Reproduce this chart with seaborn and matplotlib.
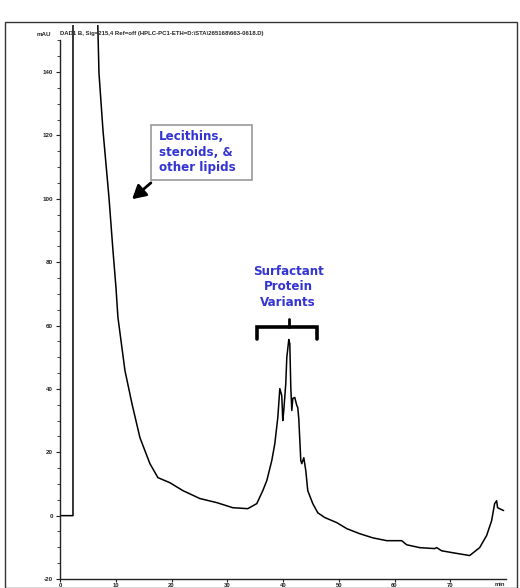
import numpy as np
import pandas as pd
import seaborn as sns
import matplotlib
matplotlib.use("Agg")
import matplotlib.pyplot as plt
from matplotlib.patches import Rectangle

# ---- data ----
time_min = [0.0, 2.33, 2.33, 6.5,
            6.99, 7.71, 8.78, 9.50, 10.04, 10.39, 11.65, 12.90, 14.34, 16.13,
            17.56, 19.71, 22.04, 25.09, 28.14, 31.0, 33.69, 35.30, 36.38, 37.10,
            37.99, 38.53, 39.07, 39.43, 39.78, 39.96, 40.14, 40.50, 40.68, 41.04,
            41.22, 41.40, 41.58, 41.76, 42.11, 42.47, 42.65, 42.83, 43.19, 43.37,
            43.73, 44.09, 44.44, 45.34, 46.24, 47.49, 49.64, 51.43, 53.76, 56.09,
            58.60, 61.29, 62.19, 64.52, 67.20, 67.56, 68.46, 70.43, 73.48, 75.27,
            76.52, 77.42, 77.96, 78.32, 78.49, 78.85, 79.57]
absorbance_mau = [0.0, 0.0, 200.0, 175.0,
                  139.7, 121.6, 100.5, 83.7, 72.0, 62.6, 45.8, 35.4, 24.6, 16.4,
                  12.0, 10.4, 7.9, 5.4, 4.1, 2.5, 2.2, 3.8, 7.9, 11.1,
                  17.4, 22.7, 31.0, 40.1, 37.9, 30.0, 33.2, 41.7, 49.9, 55.6,
                  54.3, 40.4, 33.2, 37.0, 37.3, 34.8, 34.1, 30.6, 17.4, 16.4,
                  18.3, 14.2, 7.9, 3.8, 0.9, -0.6, -2.2, -4.1, -5.7, -7.0,
                  -7.9, -7.9, -9.2, -10.1, -10.4, -10.1, -11.1, -11.7, -12.6, -10.1,
                  -6.3, -1.6, 3.8, 4.7, 2.5, 2.2, 1.6]

y_ticks = [-20, 0, 20, 40, 60, 80, 100, 120, 140]
x_ticks = [0, 10, 20, 30, 40, 50, 60, 70]
x_tick_labels = ["0", "10", "20", "30", "40", "50", "60", "70"]
title_text = "DAD1 B, Sig=215,4 Ref=off (HPLC-PC1-ETH=D:\\STA\\265168\\663-0618.D)"
lipid_label = "Lecithins,\nsteroids, &\nother lipids"
protein_label = "Surfactant\nProtein\nVariants"

df = pd.DataFrame({"time": time_min, "mAU": absorbance_mau})

sns.set_style("white")
plt.rcParams["font.family"] = ["Liberation Sans", "DejaVu Sans"]

W, H = 520, 588
fig = plt.figure(figsize=(W / 100, H / 100), dpi=100)

def fx(px):
    return px / W

def fy(py):
    return 1 - py / H

# axes: x 0 -> px 60, 80 -> px 506 ; y -20 -> py 579, 155 -> py 24.6
ax = fig.add_axes([fx(60), fy(579), fx(506) - fx(60), fy(24.6) - fy(579)])
sns.lineplot(data=df, x="time", y="mAU", sort=False, estimator=None,
             color="black", linewidth=1.1, ax=ax)
ax.set_xlim(0, 80)
ax.set_ylim(-20, 155)
ax.set_xlabel("")
ax.set_ylabel("")

for s in ["top", "right"]:
    ax.spines[s].set_visible(False)
ax.spines["left"].set_bounds(-20, 150)
for s in ["left", "bottom"]:
    ax.spines[s].set_linewidth(1.0)
    ax.spines[s].set_color("#222222")

ax.set_yticks(y_ticks)
ax.set_yticks(np.arange(-20, 151, 5), minor=True)
ax.set_yticklabels([str(v) for v in y_ticks])
ax.set_xticks(x_ticks)
ax.set_xticklabels(x_tick_labels)
ax.tick_params(axis="y", which="major", length=3, width=0.8, labelsize=4.5,
               pad=2, direction="out", left=True, colors="#222222")
ax.tick_params(axis="x", which="major", length=2.5, width=0.8, labelsize=4.2,
               pad=0.3, direction="out", bottom=True, colors="#222222")
ax.tick_params(axis="y", which="minor", length=2, width=0.6, left=True, colors="#222222")
for lab in ax.get_xticklabels() + ax.get_yticklabels():
    lab.set_fontweight("bold")

# unit labels
fig.text(fx(500), fy(585), "min", fontsize=4.2, fontweight="bold", ha="center",
         va="center")
fig.text(fx(44), fy(34), "mAU", fontsize=4.5, fontweight="bold", ha="center", va="center")
fig.text(fx(60), fy(34), title_text, fontsize=4.3, fontweight="bold", ha="left", va="center")

# annotations
blue = "#3434d2"
afont = dict(fontsize=8.6, fontweight="bold", color=blue, family="DejaVu Sans",
             linespacing=1.25)
fig.add_artist(Rectangle((fx(151), fy(180)), fx(252) - fx(151), fy(125) - fy(180),
                         transform=fig.transFigure, fc="white", ec="#9a9a9a", lw=1.2,
                         zorder=3))
fig.text(fx(159), fy(152), lipid_label, ha="left", va="center", zorder=4, **afont)
ax.annotate("", xy=(fig.transFigure.transform((fx(130), fy(201)))),
            xycoords="figure pixels",
            xytext=(fig.transFigure.transform((fx(153), fy(181)))),
            textcoords="figure pixels",
            arrowprops=dict(arrowstyle="-|>,head_length=0.8,head_width=0.45",
                            color="black", lw=2.0))

fig.text(fx(288), fy(287), protein_label, ha="center", va="center", **afont)
# bracket
bx = [fx(257), fx(257), fx(317), fx(317)]
by = [fy(339), fy(327), fy(327), fy(339)]
fig.add_artist(plt.Line2D(bx, by, color="black", lw=2.6, solid_joinstyle="miter"))
fig.add_artist(plt.Line2D([fx(289), fx(289)], [fy(327), fy(319)], color="black", lw=2.0))

# outer frame
fig.add_artist(Rectangle((fx(5), fy(587.5)), fx(517) - fx(5), fy(22) - fy(587.5),
                         transform=fig.transFigure, fill=False, ec="#333333", lw=1.0))

fig.savefig("out.png", dpi=100)
